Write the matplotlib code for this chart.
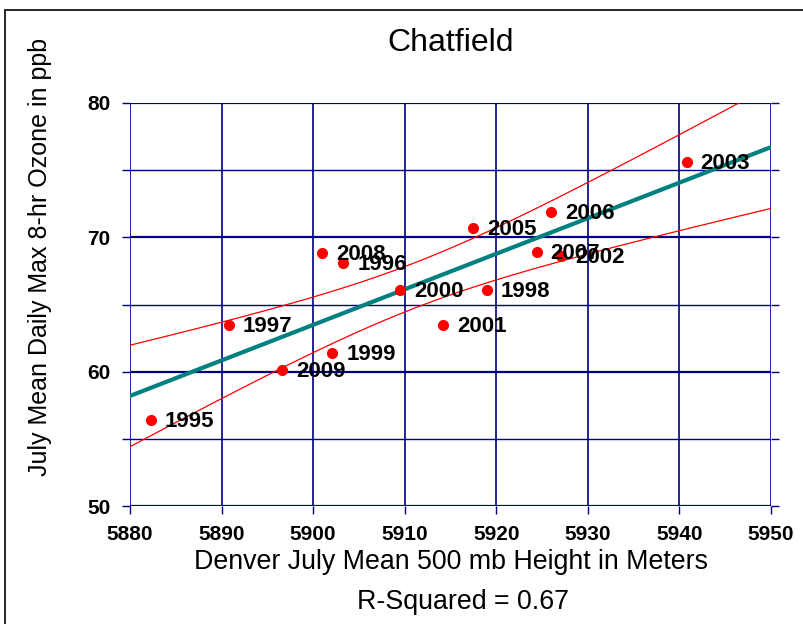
# Chatfield ozone vs 500 mb height scatter with regression

import numpy as np
import matplotlib.pyplot as plt
from matplotlib.patches import Rectangle
from matplotlib.ticker import MultipleLocator

plt.rcParams['font.family'] = ['Liberation Sans', 'DejaVu Sans']

years = ['1995', '1996', '1997', '1998', '1999', '2000', '2001', '2002',
         '2003', '2005', '2006', '2007', '2008', '2009']
height = [5882.3, 5903.3, 5890.8, 5919.0, 5902.1, 5909.5, 5914.2, 5927.1,
          5940.8, 5917.5, 5926.0, 5924.4, 5901.0, 5896.6]
ozone = [56.4, 68.1, 63.5, 66.1, 61.4, 66.1, 63.5, 68.6,
         75.6, 70.7, 71.9, 68.9, 68.8, 60.1]
r_squared = 0.67
t_crit = 2.179  # two-sided 95%, df = n - 2

navy = '#000080'

x = np.array(height)
y = np.array(ozone)
n = len(x)
slope, icept = np.polyfit(x, y, 1)
resid = y - (slope * x + icept)
s_err = np.sqrt(np.sum(resid ** 2) / (n - 2))
sxx = np.sum((x - x.mean()) ** 2)
xs = np.linspace(5880, 5950, 200)
fit = slope * xs + icept
half = t_crit * s_err * np.sqrt(1.0 / n + (xs - x.mean()) ** 2 / sxx)

fig = plt.figure(figsize=(8.04, 6.24), dpi=100)
ax = fig.add_axes([130 / 804, 118 / 624, 641 / 804, 403 / 624])

ax.plot(xs, fit + half, color='red', lw=0.9, zorder=3)
ax.plot(xs, fit - half, color='red', lw=0.9, zorder=3)
ax.plot(xs, fit, color='#008080', lw=3.0, zorder=4)
ax.plot(x, y, 'o', color='red', ms=7, zorder=5)
for yr, xi, yi in zip(years, x, y):
    ax.annotate(yr, (xi, yi), xytext=(10, -1), textcoords='offset points',
                va='center', ha='left', fontsize=16, fontweight='bold', zorder=6)

ax.set_xlim(5880, 5950)
ax.set_ylim(50, 80)
ax.xaxis.set_major_locator(MultipleLocator(10))
ax.yaxis.set_major_locator(MultipleLocator(10))
ax.yaxis.set_minor_locator(MultipleLocator(5))

ax.grid(True, which='major', axis='x', color=navy, lw=1.2)
ax.grid(True, which='major', axis='y', color=navy, lw=1.6)
ax.grid(True, which='minor', axis='y', color=navy, lw=1.0)
for s in ax.spines.values():
    s.set_visible(False)
# no line across the top at 80
ax.yaxis.get_gridlines()[-1].set_visible(False)

ax.tick_params(axis='y', which='both', left=True, right=True, direction='out',
               length=6, width=1.0, color=navy, labelsize=15, pad=8)
ax.tick_params(axis='x', which='major', direction='out', length=6, width=1.0,
               color=navy, labelsize=15, pad=8)
for lab in ax.get_xticklabels() + ax.get_yticklabels():
    lab.set_fontweight('bold')

fig.text(451 / 804, 1 - 43 / 624, 'Chatfield', ha='center', va='center', fontsize=23)
fig.text(451 / 804, 1 - 562 / 624, 'Denver July Mean 500 mb Height in Meters',
         ha='center', va='center', fontsize=19.3)
fig.text(463 / 804, 1 - 602 / 624, 'R-Squared = %.2f' % r_squared,
         ha='center', va='center', fontsize=19.3)
fig.text(40 / 804, 1 - 257 / 624, 'July Mean Daily Max 8-hr Ozone in ppb',
         ha='center', va='center', rotation=90, fontsize=18)

fig.patches.append(Rectangle((5 / 804, -0.1), 1.2, (614 / 624) + 0.1,
                             transform=fig.transFigure, fill=False,
                             edgecolor='black', lw=1.2))

fig.savefig('out.png', dpi=100)
